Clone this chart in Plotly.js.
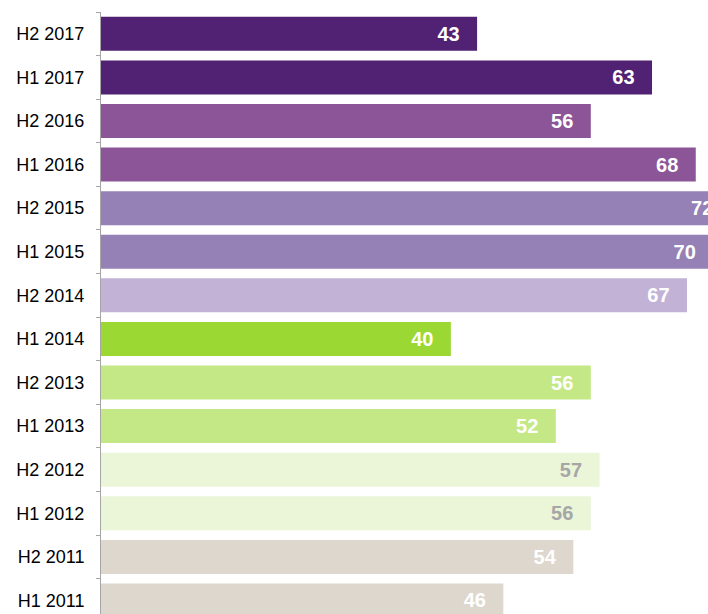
<!DOCTYPE html>
<html>
<head>
<meta charset="utf-8">
<script src="https://cdn.plot.ly/plotly-3.0.1.min.js"></script>
<style>html,body{margin:0;padding:0;background:#fff;}#chart{width:708px;height:614px;}</style>
</head>
<body>
<div id="chart"></div>
<script>
// bottom to top
var categories = ["H1 2011","H2 2011","H1 2012","H2 2012","H1 2013","H2 2013","H1 2014","H2 2014","H1 2015","H2 2015","H1 2016","H2 2016","H1 2017","H2 2017"];
var values = [46,54,56,57,52,56,40,67,70,72,68,56,63,43];
var barColors = ["#DED7CE","#DED7CE","#EBF5D8","#EBF5D8","#C5E887","#C5E887","#9BD833","#C2B3D6","#9581B6","#9581B6","#8C5597","#8C5597","#512273","#512273"];
var textColors = ["#FFFFFF","#FFFFFF","#A6A6A6","#A6A6A6","#FFFFFF","#FFFFFF","#FFFFFF","#FFFFFF","#FFFFFF","#FFFFFF","#FFFFFF","#FFFFFF","#FFFFFF","#FFFFFF"];

var trace = {
  type: "bar",
  orientation: "h",
  y: categories,
  x: values,
  marker: {color: barColors},
  text: values.map(function(v){ return v + "\u00a0\u00a0\u200a\u200a"; }),
  textposition: "inside",
  insidetextanchor: "end",
  textangle: 0,
  textfont: {family: "Liberation Sans, Arial, sans-serif", size: 20, color: textColors, weight: "bold"},
  cliponaxis: true,
  hoverinfo: "none"
};

var layout = {
  width: 708,
  height: 614,
  margin: {l: 101, r: 0, t: 12, b: 0, pad: 0},
  paper_bgcolor: "#fff",
  plot_bgcolor: "#fff",
  showlegend: false,
  bargap: 0.22,
  xaxis: {range: [0, 69.4], visible: false, fixedrange: true},
  yaxis: {
    type: "category",
    categoryorder: "array",
    categoryarray: categories,
    range: [-0.31, 13.5],
    showline: true,
    linecolor: "#A6A6A6",
    linewidth: 1,
    ticks: "outside",
    tickson: "boundaries",
    ticklen: 4,
    tickcolor: "#A6A6A6",
    tickwidth: 1,
    showgrid: false,
    zeroline: false,
    ticklabelstandoff: 12,
    tickfont: {family: "Liberation Sans, Arial, sans-serif", size: 18, color: "#000"},
    fixedrange: true
  }
};

Plotly.newPlot("chart", [trace], layout, {displayModeBar: false, staticPlot: true});
</script>
</body>
</html>
